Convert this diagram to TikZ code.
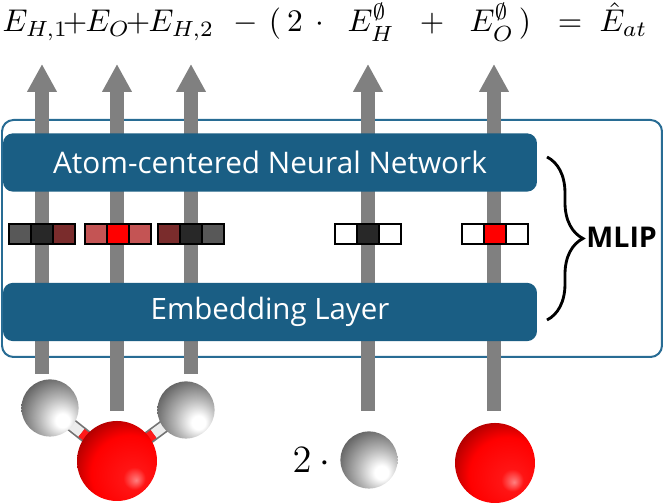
\documentclass[tikz,border=0pt]{standalone}
\usepackage{fix-cm}
\usepackage{amsmath}
\usepackage{amssymb}
\usepackage{fontspec}
\newfontfamily\labelfont{Open Sans}
\usetikzlibrary{positioning, arrows.meta, decorations.pathreplacing, calc}

\definecolor{layerblue}{RGB}{26,94,132}
\definecolor{frameblue}{RGB}{40,108,148}
\definecolor{flowgray}{RGB}{128,128,128}
\definecolor{fdark}{RGB}{40,40,40}
\definecolor{fgray}{RGB}{88,88,88}
\definecolor{fbrown}{RGB}{122,44,44}
\definecolor{fpink}{RGB}{196,84,84}
\definecolor{fred}{RGB}{255,0,0}

% shaded atoms, light from the lower right
\pgfdeclareradialshading{hball}{\pgfqpoint{12bp}{-12bp}}{color(0bp)=(white); color(6bp)=(white); color(18bp)=(gray!55); color(36bp)=(black!65); color(70bp)=(black!85)}
\pgfdeclareradialshading{oball}{\pgfqpoint{12bp}{-12bp}}{color(0bp)=(red!50!white); color(7bp)=(red!92!white); color(24bp)=(red); color(42bp)=(red!45!black); color(70bp)=(black)}

\tikzset{
	layer/.style={rectangle, rounded corners=3.5pt, fill=layerblue, text=white, minimum width=186.9pt, minimum height=20.4pt, inner sep=0pt}, % the two blue blocks
	feat/.style={rectangle, draw=black, line width=0.8pt, minimum width=7.7pt, minimum height=7pt, inner sep=0pt}, % one entry of a feature vector
	flow/.style={line width=4.9pt, draw=flowgray, -{Triangle[length=9.8pt, width=9.8pt]}},
	hatom/.style={circle, minimum size=20pt, inner sep=0pt, shade, shading=hball},
	oatom/.style={circle, minimum size=28pt, inner sep=0pt, shade, shading=oball},
	eqterm/.style={anchor=base west, inner sep=0pt, font=\fontsize{11}{13}\selectfont},
	eqop/.style={anchor=base, inner sep=0pt, font=\fontsize{11}{13}\selectfont},
}

\begin{document}
\begin{tikzpicture}[x=0.35pt, y=-0.35pt]
	\useasboundingbox (0,0) rectangle (664,504);
	% outer frame of the MLIP
	\draw[frameblue, line width=0.7pt, fill=white, rounded corners=4pt] (2,120) rectangle (662,357);
	% arrows from the atoms up to the energies
	\foreach \x/\y [count=\i] in {42/374, 117/411, 191/374, 368/411, 494/411} {
		\coordinate (in\i) at (\x,\y);
		\coordinate (out\i) at (\x,64);
		\draw[flow] (in\i) -- (out\i);
	}
	\node[layer, font=\labelfont\fontsize{10.4}{12}\selectfont] (ann) at (270,162.5) {Atom-centered Neural Network};
	\node[layer, font=\labelfont\fontsize{10.3}{12}\selectfont] (emb) at (270,312) {Embedding Layer};
	% feature vectors
	\foreach \x/\ca/\cb/\cc [count=\i] in {42/fgray/fdark/fbrown, 118/fpink/fred/fpink, 191/fbrown/fdark/fgray, 368/white/fdark/white, 495/white/fred/white} {
		\node[feat, fill=\ca] (f\i-l) at (\x-22,234) {};
		\node[feat, fill=\cb] (f\i-c) at (\x,234) {};
		\node[feat, fill=\cc] (f\i-r) at (\x+22,234) {};
	}
	% brace and label
	\coordinate (btop) at (547,157);
	\coordinate (bbot) at (547,320);
	\coordinate (btip) at (583,237);
	\draw[decorate, decoration={brace, amplitude=12.6pt}, line width=1pt] (btop) -- (bbot);
	\node[right=1pt of btip, inner sep=0pt, font=\labelfont\bfseries\fontsize{10}{12}\selectfont] (mlip) {MLIP};
	% water molecule
	\coordinate (h1pos) at (50,408);
	\coordinate (owpos) at (117,461);
	\coordinate (h2pos) at (186,410);
	\draw[black!55, line width=4.6pt] (h1pos) -- (owpos) (h2pos) -- (owpos);
	\draw[gray!15, line width=3.4pt] (h1pos) -- ($(h1pos)!.47!(owpos)$);
	\draw[red!90, line width=3.4pt] ($(h1pos)!.47!(owpos)$) -- (owpos);
	\draw[gray!15, line width=3.4pt] (h2pos) -- ($(h2pos)!.47!(owpos)$);
	\draw[red!90, line width=3.4pt] ($(h2pos)!.47!(owpos)$) -- (owpos);
	\node[hatom] (h1) at (h1pos) {};
	\node[hatom] (h2) at (h2pos) {};
	\node[oatom] (ow) at (owpos) {};
	% free atoms
	\node[hatom] (hs) at (369,460) {};
	\node[oatom] (os) at (495,463) {};
	\node[left=0pt of hs, inner sep=0pt, font=\fontsize{13.5}{16}\selectfont] (two) {$2\cdot{}$};
	% energy sum
	\foreach \x/\term [count=\i] in {2/{E_{H,1}}, 85/{E_O}, 148/{E_{H,2}}, 347/{E_H^{\emptyset}}, 469/{E_O^{\emptyset}}, 599/{\hat{E}_{at}}}
		\node[eqterm] (term\i) at (\x,32) {$\term$};
	\foreach \x/\term [count=\i] in {75/+, 138/+, 246/-, 275/{(}, 295/2, 320/{\cdot}, 432/+, 525/{)}, 570/=}
		\node[eqop] (op\i) at (\x,32) {$\term$};
\end{tikzpicture}
\end{document}
